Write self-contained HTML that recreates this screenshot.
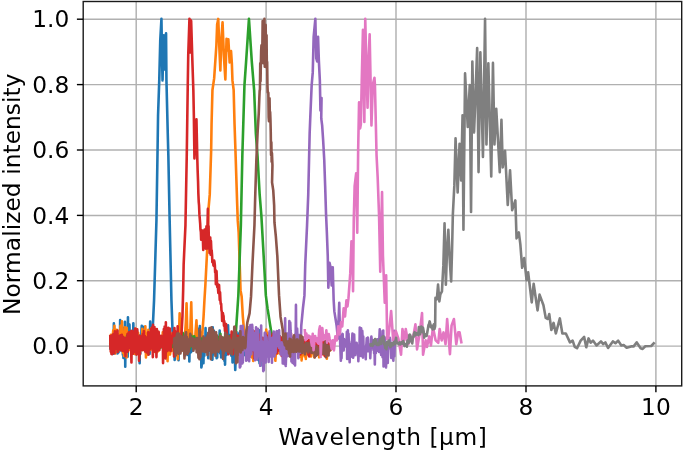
<!DOCTYPE html>
<html lang="en"><head><meta charset="utf-8"><title>Normalized intensity vs wavelength</title>
<style>
html,body{margin:0;padding:0;background:#fff;}
body{width:685px;height:452px;overflow:hidden;}
svg{display:block;}
text{font-family:"DejaVu Sans","Liberation Sans",sans-serif;font-size:23.3px;fill:#000;}
.g line{stroke:#b0b0b0;stroke-width:1.45;}
.t line{stroke:#000;stroke-width:1.4;}
.s polyline{fill:none;stroke-width:2.6;stroke-linejoin:round;stroke-linecap:butt;}
</style></head><body>
<svg width="685" height="452" viewBox="0 0 685 452">
<rect x="0" y="0" width="685" height="452" fill="#fff"/>
<defs><clipPath id="c"><rect x="83.2" y="1.5" width="598.5" height="384.4"/></clipPath></defs>

<g class="g">
<line x1="136.2" y1="1.5" x2="136.2" y2="385.9"/>
<line x1="266.1" y1="1.5" x2="266.1" y2="385.9"/>
<line x1="396.0" y1="1.5" x2="396.0" y2="385.9"/>
<line x1="526.0" y1="1.5" x2="526.0" y2="385.9"/>
<line x1="655.9" y1="1.5" x2="655.9" y2="385.9"/>
<line x1="83.2" y1="346.1" x2="681.7" y2="346.1"/>
<line x1="83.2" y1="280.7" x2="681.7" y2="280.7"/>
<line x1="83.2" y1="215.4" x2="681.7" y2="215.4"/>
<line x1="83.2" y1="150.0" x2="681.7" y2="150.0"/>
<line x1="83.2" y1="84.6" x2="681.7" y2="84.6"/>
<line x1="83.2" y1="19.2" x2="681.7" y2="19.2"/>
</g>
<g class="s" clip-path="url(#c)" transform="translate(-0.15,0.4)">
<polyline stroke="#1f77b4" points="110.4,349.5 110.7,340.4 111.0,345.6 111.3,344.3 111.6,351.1 111.9,343.0 112.2,341.6 112.5,345.3 112.8,343.5 113.1,339.7 113.4,338.7 113.7,353.3 114.0,323.0 114.3,337.1 114.6,331.4 114.9,345.7 115.2,346.8 115.5,346.5 115.8,332.2 116.1,342.1 116.4,337.5 116.7,340.9 117.0,343.0 117.3,340.7 117.6,353.0 117.9,340.6 118.2,336.6 118.5,352.2 118.8,349.6 119.1,350.9 119.4,347.7 119.7,350.8 120.0,347.6 120.3,319.6 120.6,325.7 120.9,342.4 121.2,343.8 121.5,348.7 121.8,340.9 122.1,335.0 122.4,329.1 122.7,335.6 123.0,354.4 123.3,332.0 123.6,357.5 123.9,327.3 124.2,341.2 124.5,341.6 124.8,336.3 125.1,321.4 125.4,366.4 125.7,336.2 126.0,344.6 126.3,339.1 126.6,354.1 126.9,355.2 127.2,342.3 127.5,337.1 127.8,356.3 128.1,316.8 128.4,341.9 128.7,348.0 129.0,342.3 129.3,337.4 129.6,324.2 129.9,335.6 130.2,336.8 130.5,330.8 130.8,349.3 131.1,340.9 131.4,343.7 131.7,348.1 132.0,345.9 132.3,346.6 132.6,348.3 132.9,340.3 133.2,345.7 133.5,322.8 133.8,340.8 134.1,348.8 134.4,339.1 134.7,346.0 135.0,353.5 135.3,334.2 135.6,344.6 135.9,345.0 136.2,337.6 136.5,342.7 136.8,342.9 137.1,329.6 137.4,345.1 137.7,336.4 138.0,338.9 138.3,340.3 138.6,347.1 138.9,344.8 139.2,348.2 139.5,346.5 139.8,362.8 140.1,334.9 140.4,353.0 140.7,340.1 141.0,337.5 141.3,345.6 141.6,330.3 141.9,325.4 142.2,338.7 142.5,347.4 142.8,336.4 143.1,328.8 143.4,336.6 143.7,343.7 144.0,326.3 144.3,346.8 144.6,348.3 144.9,346.8 145.2,340.5 145.5,341.0 145.8,337.1 146.1,343.6 146.4,344.1 146.7,348.0 147.0,338.2 147.3,351.8 147.6,344.1 147.9,338.1 148.2,343.5 148.5,346.1 148.8,341.5 149.1,331.8 149.4,335.5 149.7,353.6 150.0,347.3 150.3,321.2 150.6,342.7 150.9,341.3 151.2,344.6 151.5,331.2 151.8,336.6 152.6,334.0 154.2,300.0 156.6,220.0 157.7,150.0 158.2,115.0 159.4,80.0 160.4,40.0 161.6,18.5 162.2,58.0 162.7,80.0 163.3,52.0 163.9,35.0 164.4,58.0 164.8,69.0 165.5,45.0 166.2,33.0 166.6,80.0 167.9,133.0 168.5,155.0 169.8,220.0 171.6,300.0 172.7,331.0 173.3,344.0 173.6,343.7 173.9,350.3 174.2,338.8 174.5,338.6 174.8,359.6 175.1,355.4 175.4,352.6 175.7,347.3 176.0,349.3 176.3,350.1 176.6,341.2 176.9,340.3 177.2,345.7 177.5,341.5 177.8,347.3 178.1,347.1 178.4,352.2 178.7,359.9 179.0,332.0 179.3,339.6 179.6,342.8 179.9,333.4 180.2,348.9 180.5,320.8 180.8,329.2 181.1,339.5 181.4,344.9 181.7,347.6 182.0,341.6 182.3,348.1 182.6,333.5 182.9,337.5 183.2,333.4 183.5,339.4 183.8,342.6 184.1,341.0 184.4,352.1 184.7,354.3 185.0,339.0 185.3,353.1 185.6,343.5 185.9,330.7 186.2,342.1 186.5,321.1 186.8,350.2 187.1,349.6 187.4,352.6 187.7,354.5 188.0,334.2 188.3,347.2 188.6,349.1 188.9,344.2 189.2,336.5 189.5,361.1 189.8,346.0 190.1,346.8 190.4,344.7 190.7,340.9 191.0,352.0 191.3,349.8 191.6,345.0 191.9,350.7 192.2,341.2 192.5,343.7 192.8,347.1 193.1,347.9 193.4,345.2 193.7,344.5 194.0,345.5 194.3,344.7 194.6,337.8 194.9,345.1 195.2,345.3 195.5,348.1 195.8,342.3 196.1,345.1 196.4,334.9 196.7,334.6 197.0,345.8 197.3,338.4 197.6,344.8 197.9,335.7 198.2,347.5 198.5,337.5 198.8,328.2 199.1,342.6 199.4,344.3 199.7,345.9 200.0,325.7 200.3,348.4 200.6,337.4 200.9,341.2 201.2,344.2 201.5,367.1 201.8,365.5 202.1,332.2 202.4,344.9 202.7,335.9 203.0,343.6 203.3,340.6 203.6,362.9 203.9,349.5 204.2,350.3 204.5,355.4 204.8,346.8 205.1,349.9 205.4,350.0 205.7,327.6 206.0,351.0 206.3,341.2 206.6,338.8 206.9,340.0 207.2,349.8 207.5,334.8 207.8,348.3 208.1,349.2 208.4,357.9 208.7,342.7 209.0,336.7 209.3,344.6 209.6,329.3 209.9,345.8 210.2,348.8 210.5,335.8 210.8,350.6 211.1,342.9 211.4,332.5 211.7,330.4 212.0,345.0 212.3,359.4 212.6,359.1 212.9,327.0 213.2,347.1 213.5,354.2 213.8,337.2 214.1,330.4 214.4,352.3 214.7,350.3 215.0,347.1 215.3,352.3 215.6,334.6 215.9,345.0 216.2,344.3 216.5,347.6 216.8,357.9 217.1,340.0 217.4,357.1 217.7,337.6 218.0,348.3 218.3,342.9 218.6,350.3 218.9,339.7 219.2,341.1 219.5,350.4 219.8,330.2 220.1,347.9 220.4,353.1 220.7,347.6 221.0,347.7 221.3,357.0 221.6,347.7 221.9,350.0 222.2,341.0 222.5,351.7 222.8,340.6 223.1,347.1 223.4,349.9 223.7,337.9 224.0,340.3 224.3,350.4 224.6,360.6 224.9,357.2 225.2,364.2 225.5,346.1 225.8,342.5 226.1,354.8 226.4,343.3 226.7,338.0 227.0,331.4 227.3,347.5 227.6,338.1 227.9,353.7 228.2,324.9 228.5,335.3 228.8,343.1 229.1,344.5 229.4,337.8 229.7,348.8 230.0,340.9 230.3,334.6 230.6,348.3 230.9,345.0 231.2,348.3 231.5,355.3 231.8,340.6 232.1,339.5 232.4,349.5 232.7,362.1 233.0,338.7 233.3,340.1 233.6,350.3 233.9,361.2 234.2,348.3 234.5,356.9 234.8,334.2 235.1,359.6 235.4,369.6 235.7,360.2 236.0,350.3 236.3,355.2 236.6,331.7 236.9,350.7 237.2,335.1 237.5,350.9 237.8,339.7 238.1,341.6 238.4,341.3 238.7,352.0 239.0,347.7 239.3,332.9 239.6,342.4 239.9,349.7 240.2,331.0 240.5,351.3 240.8,349.7 241.1,337.4 241.4,354.9 241.7,347.5 242.0,343.7 242.3,352.7 242.6,354.1 242.9,353.4 243.2,352.1 243.5,352.5 243.8,342.5 244.1,346.8 244.4,340.9 244.7,350.4 245.0,342.7 245.3,354.8 245.6,340.0 245.9,344.3 246.2,342.6 246.5,346.8 246.8,329.5 247.1,348.4 247.4,346.5 247.7,339.3 248.0,358.0 248.3,343.5 248.6,352.0 248.9,346.9 249.2,352.0 249.5,337.9 249.8,336.7 250.1,344.4 250.4,350.4 250.7,345.8 251.0,347.8 251.3,347.3 251.6,346.1 251.9,345.4 252.2,344.2 252.5,348.2 252.8,351.8 253.1,346.0 253.4,344.1 253.7,351.6 254.0,337.3 254.3,349.6 254.6,349.3 254.9,350.5 255.2,354.5 255.5,354.8 255.8,345.3 256.1,354.5 256.4,357.4 256.7,357.4 257.0,348.1 257.3,357.7 257.6,345.7 257.9,353.6 258.2,342.7 258.5,359.7 258.8,348.9 259.1,350.7 259.4,329.8 259.7,362.9 260.0,346.5 260.3,354.4 260.6,365.2 260.9,350.4 261.2,354.3 261.5,355.4 261.8,341.4 262.1,346.5 262.4,360.0 262.7,345.2 263.0,345.1 263.3,344.8 263.6,345.2 263.9,346.1 264.2,346.6 264.5,346.9 264.8,344.3 265.1,349.8 265.4,353.4 265.7,334.6 266.0,349.7"/>
<polyline stroke="#ff7f0e" points="110.4,343.7 110.7,337.2 111.0,334.3 111.3,351.7 111.6,347.2 111.9,339.3 112.2,338.8 112.5,338.5 112.8,345.1 113.1,333.4 113.4,329.9 113.7,335.4 114.0,339.6 114.3,336.0 114.6,325.4 114.9,335.4 115.2,341.7 115.5,353.1 115.8,342.5 116.1,342.6 116.4,345.1 116.7,334.9 117.0,329.3 117.3,330.4 117.6,344.7 117.9,338.8 118.2,340.4 118.5,345.9 118.8,334.2 119.1,346.3 119.4,349.7 119.7,344.9 120.0,348.0 120.3,341.9 120.6,325.5 120.9,338.4 121.2,341.0 121.5,327.4 121.8,336.6 122.1,320.8 122.4,331.3 122.7,350.8 123.0,341.3 123.3,352.5 123.6,342.5 123.9,345.8 124.2,355.5 124.5,339.8 124.8,336.9 125.1,326.8 125.4,336.3 125.7,345.9 126.0,346.2 126.3,336.0 126.6,357.1 126.9,327.5 127.2,342.4 127.5,340.2 127.8,332.5 128.1,335.3 128.4,333.3 128.7,341.4 129.0,349.7 129.3,340.6 129.6,341.1 129.9,346.1 130.2,348.2 130.5,347.0 130.8,344.5 131.1,344.5 131.4,337.9 131.7,335.2 132.0,335.2 132.3,344.5 132.6,346.7 132.9,345.2 133.2,339.6 133.5,340.2 133.8,337.2 134.1,352.7 134.4,349.0 134.7,335.2 135.0,348.0 135.3,353.6 135.6,336.5 135.9,343.7 136.2,328.5 136.5,343.2 136.8,351.2 137.1,347.9 137.4,347.1 137.7,342.0 138.0,342.1 138.3,332.3 138.6,341.3 138.9,340.7 139.2,339.3 139.5,350.7 139.8,352.4 140.1,341.1 140.4,337.9 140.7,340.6 141.0,343.6 141.3,335.5 141.6,340.7 141.9,339.6 142.2,349.8 142.5,328.4 142.8,329.3 143.1,342.9 143.4,347.4 143.7,340.6 144.0,331.8 144.3,343.8 144.6,341.5 144.9,343.1 145.2,337.4 145.5,325.9 145.8,336.4 146.1,357.0 146.4,347.8 146.7,346.0 147.0,354.3 147.3,348.4 147.6,344.6 147.9,332.9 148.2,343.4 148.5,329.5 148.8,331.0 149.1,340.9 149.4,340.3 149.7,342.2 150.0,349.9 150.3,347.3 150.6,336.7 150.9,349.3 151.2,342.5 151.5,335.2 151.8,327.6 152.1,346.3 152.4,340.3 152.7,340.1 153.0,341.2 153.3,341.7 153.6,346.7 153.9,341.3 154.2,334.9 154.5,351.5 154.8,335.7 155.1,335.5 155.4,347.1 155.7,334.2 156.0,341.8 156.3,337.9 156.6,339.5 156.9,335.5 157.2,344.9 157.5,351.7 157.8,331.1 158.1,339.0 158.4,333.7 158.7,350.4 159.0,341.8 159.3,342.7 159.6,344.0 159.9,341.3 160.2,341.5 160.5,345.1 160.8,342.7 161.1,345.5 161.4,343.1 161.7,345.7 162.0,336.9 162.3,340.3 162.6,345.4 162.9,331.8 163.2,343.2 163.5,335.8 163.8,353.6 164.1,345.5 164.4,335.5 164.7,337.2 165.0,351.2 165.3,342.2 165.6,336.5 165.9,342.9 166.2,344.4 166.5,349.8 166.8,344.3 167.1,343.0 167.4,334.3 167.7,360.7 168.0,346.3 168.3,337.2 168.6,338.9 168.9,342.7 169.2,340.0 169.5,341.3 169.8,337.8 170.1,354.2 170.4,352.4 170.7,339.6 171.0,332.8 171.3,341.6 171.6,350.6 171.9,340.0 172.2,348.0 172.5,338.5 172.8,342.4 173.1,340.7 173.4,347.1 173.7,340.7 174.0,346.0 174.3,354.1 174.6,343.7 174.9,349.7 175.2,341.8 175.5,335.5 175.8,352.2 176.1,341.3 176.4,339.0 176.7,342.7 177.0,350.9 177.3,340.6 177.6,345.2 177.9,358.7 178.2,339.4 178.5,353.3 179.8,313.0 180.7,345.0 181.6,338.0 182.5,350.0 183.4,336.0 184.3,348.0 185.2,335.0 186.0,322.0 186.7,303.0 187.4,330.0 188.3,344.0 189.2,330.0 190.1,342.0 190.8,320.0 191.4,302.0 192.1,332.0 193.0,346.0 193.9,336.0 194.8,348.0 195.7,332.0 196.6,320.0 197.5,340.0 198.4,350.0 199.3,338.0 200.2,347.0 201.1,340.0 202.0,339.5 203.7,316.5 204.6,299.6 205.5,285.0 207.3,250.0 208.7,208.0 209.9,194.0 211.3,150.0 211.7,124.0 212.6,89.6 214.3,78.0 216.5,45.4 217.3,24.0 218.4,18.5 219.4,45.0 220.5,70.0 221.5,40.0 222.7,22.0 224.0,55.0 225.5,79.0 226.7,38.3 227.6,50.0 228.5,39.0 229.8,62.0 231.2,50.7 232.0,63.0 232.6,80.0 233.8,89.6 234.7,124.0 235.6,150.0 237.3,203.0 237.9,220.0 238.8,232.0 240.7,290.0 241.8,296.0 243.0,316.5 243.8,325.4 244.5,338.0 245.4,338.4 245.8,343.0 246.1,336.1 246.4,336.7 246.8,350.7 247.1,332.6 247.5,341.6 247.8,328.4 248.2,346.9 248.5,336.3 248.9,335.4 249.2,347.3 249.6,335.3 249.9,348.0 250.3,331.5 250.6,339.8 251.0,348.3 251.3,346.6 251.7,338.9 252.0,331.5 252.4,357.3 252.7,351.4 253.1,340.8 253.4,360.6 253.8,352.9 254.1,347.4 254.5,347.0 254.8,346.3 255.2,337.6 255.5,344.4 255.9,339.9 256.2,357.2 256.6,344.6 256.9,345.2 257.3,339.3 257.6,349.4 258.0,342.2 258.3,341.5 258.7,344.0 259.1,343.1 259.4,338.5 259.8,345.3 260.1,347.3 260.5,343.6 260.8,348.2 261.2,351.4 261.5,344.8 261.9,339.1 262.2,346.9 262.6,345.5 262.9,348.9 263.3,347.5 263.6,351.4 264.0,340.2 264.3,346.4 264.7,344.4 265.0,338.0 265.4,344.2 265.7,350.3 266.1,341.4 266.4,329.1 266.8,351.5 267.1,351.1 267.5,344.8 267.8,332.6 268.2,336.2 268.5,340.3 268.9,337.1 269.2,347.3 269.6,339.6 269.9,346.4 270.3,340.9 270.6,336.8 271.0,342.1 271.3,341.4 271.7,351.4 272.0,341.0 272.4,335.2 272.7,337.9 273.1,341.5 273.4,337.2 273.8,355.1 274.1,354.7 274.5,340.3 274.8,350.9 275.2,343.2 275.5,360.4 275.9,353.7 276.2,343.6 276.6,351.1 276.9,344.8 277.3,353.3 277.6,350.9 278.0,333.9 278.3,339.7 278.7,352.1 279.0,342.7 279.4,344.4 279.7,353.0 280.1,344.2 280.4,346.2 280.8,341.4 281.1,346.4 281.5,349.6 281.8,344.6 282.2,343.1 282.5,340.4 282.9,345.4 283.2,342.4 283.6,342.6 283.9,344.8 284.3,336.5 284.6,343.2 285.0,341.6 285.3,340.9 285.7,342.0 286.0,343.8 286.4,341.1 286.7,346.0 287.1,355.5 287.4,344.5 287.8,346.4 288.1,352.2 288.5,338.4 288.8,342.0 289.2,344.7 289.5,350.7 289.9,345.2 290.2,345.6 290.6,354.1 290.9,349.7 291.3,345.0 291.6,345.5 292.0,342.2 292.3,339.7 292.7,343.6 293.0,341.2 293.4,338.8 293.7,347.8 294.1,348.2 294.4,352.9 294.8,347.3 295.1,343.0 295.5,346.5 295.8,341.1 296.2,346.8 296.5,342.5 296.9,348.2 297.2,340.6 297.6,349.5 297.9,348.3 298.3,343.7 298.6,346.6 299.0,346.2 299.3,343.9 299.7,356.3 300.0,345.2 300.4,349.6 300.7,351.9 301.1,352.4 301.4,346.5 301.8,360.0 302.1,354.5 302.5,351.4 302.8,346.5 303.2,354.5 303.5,348.4 303.9,346.4 304.2,345.2 304.6,342.8 304.9,356.0 305.3,350.0 305.6,345.3 306.0,358.6 306.3,348.2 306.7,346.3 307.0,345.6 307.4,353.3 307.7,352.9 308.1,346.5 308.4,348.9 308.8,347.8 309.1,346.6 309.5,348.6 309.8,349.2 310.2,345.7 310.5,347.7 310.9,350.0 311.2,356.1 311.6,352.2 311.9,353.3 312.3,352.4 312.6,349.7 313.0,350.7 313.3,344.4 313.7,351.9 314.0,347.6 314.4,356.9 314.7,349.1 315.1,349.5 315.4,348.4 315.8,346.5 316.1,343.2 316.5,353.3 316.8,354.5 317.2,348.1 317.5,350.7 317.9,353.3 318.2,343.3 318.6,351.8 318.9,351.4 319.3,356.9 319.6,349.1 320.0,354.7 320.3,351.6 320.7,348.1 321.0,350.3 321.4,349.2 321.7,347.7 322.1,351.7 322.4,347.0 322.8,349.8 323.1,346.7 323.5,347.4 323.8,351.5 324.2,347.7 324.5,354.7 324.9,349.4 325.2,355.2 325.6,343.2 325.9,352.1 326.3,344.5 326.6,341.6 327.0,358.2 327.3,351.1 327.7,349.3 328.0,345.3 328.4,351.9 328.7,350.0 329.1,348.4 329.4,350.3 329.8,347.4 330.1,349.9 330.5,349.9 330.8,344.4"/>
<polyline stroke="#2ca02c" points="110.4,342.8 110.8,343.9 111.1,339.4 111.4,339.7 111.8,341.5 112.1,343.8 112.5,341.9 112.8,347.1 113.2,338.4 113.5,338.0 113.9,344.8 114.2,340.2 114.6,339.9 114.9,341.3 115.3,333.9 115.6,340.4 116.0,342.9 116.3,340.2 116.7,342.6 117.0,338.8 117.4,339.4 117.7,341.9 118.1,340.5 118.4,337.4 118.8,348.8 119.1,343.7 119.5,339.8 119.8,344.1 120.2,339.7 120.5,335.4 120.9,340.8 121.2,341.7 121.6,342.4 121.9,348.7 122.3,343.2 122.6,343.8 123.0,340.3 123.3,347.0 123.7,340.3 124.0,337.7 124.4,341.7 124.7,341.0 125.1,343.2 125.4,339.7 125.8,344.9 126.1,339.6 126.5,338.5 126.8,347.1 127.2,335.5 127.5,342.8 127.9,341.2 128.2,343.6 128.6,340.1 128.9,338.5 129.3,345.2 129.6,342.6 130.0,340.0 130.3,340.4 130.7,337.8 131.0,343.4 131.4,341.8 131.7,342.7 132.1,347.5 132.4,336.5 132.8,348.1 133.1,350.8 133.5,339.8 133.8,337.1 134.2,339.8 134.5,345.4 134.9,340.0 135.2,346.3 135.6,340.0 135.9,340.1 136.3,339.5 136.6,341.7 137.0,340.3 137.3,338.5 137.7,343.2 138.0,348.3 138.4,345.6 138.7,341.1 139.1,341.1 139.4,344.3 139.8,344.9 140.1,338.7 140.5,342.4 140.8,342.5 141.2,340.6 141.5,340.8 141.9,342.7 142.2,347.0 142.6,336.1 142.9,342.9 143.3,342.1 143.6,335.7 144.0,338.4 144.3,342.1 144.7,338.1 145.0,341.5 145.4,342.1 145.7,339.3 146.1,339.7 146.4,341.0 146.8,340.7 147.1,342.3 147.5,343.2 147.8,342.9 148.2,339.3 148.5,335.9 148.9,341.9 149.2,339.6 149.6,345.4 149.9,340.2 150.3,346.3 150.6,342.1 151.0,343.7 151.3,339.7 151.7,341.9 152.0,343.9 152.4,341.9 152.7,344.0 153.1,340.6 153.4,340.6 153.8,340.7 154.1,345.8 154.5,337.7 154.8,343.1 155.2,343.2 155.5,342.6 155.9,340.8 156.2,343.1 156.6,343.5 156.9,341.0 157.3,344.1 157.6,339.8 158.0,347.1 158.3,339.3 158.7,344.6 159.0,342.7 159.4,340.9 159.7,347.8 160.1,341.5 160.4,342.7 160.8,347.4 161.1,346.6 161.5,341.9 161.8,339.5 162.2,340.5 162.5,344.5 162.9,346.4 163.2,338.2 163.6,343.1 163.9,340.1 164.3,340.8 164.6,338.5 165.0,342.4 165.3,344.3 165.7,341.1 166.0,342.5 166.4,341.2 166.7,336.1 167.1,345.6 167.4,340.6 167.8,338.3 168.1,342.5 168.5,340.8 168.8,340.3 169.2,344.7 169.5,340.9 169.9,341.8 170.2,341.3 170.6,337.6 170.9,341.5 171.3,341.4 171.6,344.7 172.0,337.6 172.3,344.1 172.7,346.5 173.0,338.6 173.4,341.3 173.7,337.8 174.1,339.8 174.4,344.6 174.8,342.3 175.1,340.8 175.5,343.2 175.8,342.5 176.2,343.9 176.5,339.7 176.9,338.4 177.2,343.1 177.6,346.7 177.9,342.4 178.3,342.7 178.6,339.2 179.0,343.3 179.3,345.0 179.7,341.1 180.0,338.4 180.4,340.5 180.7,343.7 181.1,341.7 181.4,342.4 181.8,336.4 182.1,342.8 182.5,345.7 182.8,332.5 183.2,340.9 183.5,342.4 183.9,341.2 184.2,337.5 184.6,339.5 184.9,341.3 185.3,338.8 185.6,340.5 186.0,338.4 186.3,340.5 186.7,344.4 187.0,342.2 187.4,341.1 187.7,341.0 188.1,340.5 188.4,344.6 188.8,345.1 189.1,341.2 189.5,344.5 189.8,348.4 190.2,339.2 190.5,346.9 190.9,343.1 191.2,339.9 191.6,335.4 191.9,337.7 192.3,337.0 192.6,340.1 193.0,338.9 193.3,344.0 193.7,345.4 194.0,339.1 194.4,335.9 194.7,344.0 195.1,341.2 195.4,342.7 195.8,342.3 196.1,345.8 196.5,347.1 196.8,337.8 197.2,342.2 197.5,348.7 197.9,342.0 198.2,348.1 198.6,344.8 198.9,339.8 199.3,340.7 199.6,344.3 200.0,339.0 200.3,338.6 200.7,337.6 201.0,345.3 201.4,339.4 201.7,339.4 202.1,341.0 202.4,338.7 202.8,338.3 203.1,342.2 203.5,342.3 203.8,339.1 204.2,345.9 204.5,339.7 204.9,342.7 205.2,339.8 205.6,341.2 205.9,339.1 206.3,340.0 206.6,342.8 207.0,341.7 207.3,343.3 207.7,341.3 208.0,344.2 208.4,341.3 208.7,344.9 209.1,340.7 209.4,341.3 209.8,340.8 210.1,345.0 210.5,344.2 210.8,341.6 211.2,342.9 211.5,344.5 211.9,338.5 212.2,340.4 212.6,343.8 212.9,336.6 213.3,346.5 213.6,343.2 214.0,338.0 214.3,338.0 214.7,346.6 215.0,345.9 215.4,337.9 215.7,344.5 216.1,346.9 216.4,345.0 216.8,341.7 217.1,336.0 217.5,339.9 217.8,346.7 218.2,349.1 218.5,343.3 218.9,338.0 219.2,341.7 219.6,336.3 219.9,338.8 220.3,335.3 220.6,333.4 221.0,345.8 221.3,340.8 221.7,338.7 222.0,347.7 222.4,339.4 222.7,338.9 223.1,340.2 223.4,338.6 223.8,337.6 224.1,337.2 224.5,343.6 224.8,339.5 225.2,337.3 225.5,345.3 225.9,343.8 226.2,338.7 226.6,343.0 226.9,343.7 227.3,337.5 227.6,336.8 228.0,339.0 228.3,337.2 228.7,342.2 229.0,346.5 229.4,345.7 229.7,336.0 230.1,341.4 230.4,342.9 230.8,337.8 231.1,344.3 231.5,342.0 231.8,339.7 232.2,337.0 232.5,338.4 232.9,339.9 233.2,343.4 233.6,340.9 233.9,340.5 234.3,343.1 234.6,340.3 235.0,339.5 235.6,338.0 236.5,325.0 238.5,295.0 241.0,225.0 242.5,155.0 244.6,85.0 246.2,62.0 249.1,18.5 252.0,62.0 254.3,90.0 256.0,133.0 257.7,156.0 259.8,194.0 261.5,215.0 263.3,246.5 266.0,295.0 267.7,308.0 270.4,325.4 272.2,336.0 273.0,338.0 273.4,343.9 273.7,341.7 274.1,343.2 274.4,348.8 274.8,342.0 275.1,350.9 275.5,343.0 275.8,338.9 276.2,344.3 276.5,335.2 276.9,341.8 277.2,341.5 277.6,341.5 277.9,342.8 278.3,348.8 278.6,337.5 279.0,349.0 279.3,341.5 279.7,340.7 280.0,335.9 280.4,336.5 280.7,340.6 281.1,340.8 281.4,340.9 281.8,341.6 282.1,339.5 282.5,341.1 282.8,340.6 283.2,339.9 283.5,340.3 283.9,342.2 284.2,339.9 284.6,345.3 284.9,344.6 285.3,342.9 285.6,340.9 286.0,345.2 286.3,341.0 286.7,338.5 287.0,341.1 287.4,337.9 287.7,337.7 288.1,341.5 288.4,337.6 288.8,339.6 289.1,339.8 289.5,344.9 289.8,341.8 290.2,342.8 290.5,336.7 290.9,339.6 291.2,338.8 291.6,340.7 291.9,343.2 292.3,340.3 292.6,341.3 293.0,341.6 293.3,337.3 293.7,343.2 294.0,338.4 294.4,342.9 294.7,336.0 295.1,343.6 295.4,344.7 295.8,344.6 296.1,344.3 296.5,342.0 296.8,345.9 297.2,337.8 297.5,339.5 297.9,334.9 298.2,347.2 298.6,342.1 298.9,339.2 299.3,347.1 299.6,339.6 300.0,339.2"/>
<polyline stroke="#d62728" points="110.4,334.7 110.6,347.8 110.8,346.2 111.0,351.2 111.2,351.3 111.4,335.5 111.6,353.5 111.8,348.4 112.0,349.7 112.2,353.8 112.4,346.5 112.6,341.4 112.8,336.5 113.0,334.1 113.2,337.9 113.4,334.1 113.6,344.5 113.8,344.4 114.0,342.3 114.2,344.4 114.4,333.4 114.6,352.9 114.8,340.0 115.0,330.9 115.2,342.9 115.4,346.2 115.6,344.2 115.8,345.7 116.0,332.2 116.2,348.3 116.4,339.5 116.6,342.4 116.8,346.5 117.0,332.0 117.2,345.8 117.4,345.0 117.6,330.2 117.8,351.5 118.0,343.1 118.2,337.6 118.4,345.5 118.6,348.3 118.8,346.1 119.0,348.9 119.2,342.8 119.4,340.6 119.6,336.4 119.8,335.8 120.0,342.5 120.2,348.5 120.4,341.9 120.6,349.5 120.8,335.0 121.0,347.7 121.2,343.1 121.4,338.8 121.6,340.2 121.8,341.1 122.0,334.5 122.2,350.2 122.4,341.8 122.6,344.4 122.8,343.4 123.0,344.3 123.2,336.3 123.4,346.8 123.6,342.1 123.8,349.1 124.0,350.8 124.2,337.3 124.4,338.4 124.6,343.2 124.8,350.4 125.0,338.9 125.2,344.8 125.4,347.7 125.6,355.9 125.8,337.7 126.0,343.3 126.2,338.4 126.4,344.7 126.6,347.6 126.8,338.0 127.0,346.5 127.2,336.7 127.4,346.1 127.6,333.7 127.8,351.3 128.0,343.6 128.2,348.4 128.4,342.0 128.6,341.3 128.8,337.9 129.0,331.9 129.2,337.4 129.4,340.6 129.6,347.5 129.8,345.0 130.0,345.9 130.2,337.5 130.4,344.9 130.6,346.8 130.8,331.2 131.0,343.0 131.2,345.2 131.4,353.2 131.6,362.0 131.8,342.3 132.0,330.4 132.2,351.9 132.4,331.7 132.6,340.3 132.8,331.7 133.0,346.2 133.2,353.4 133.4,343.0 133.6,336.6 133.8,331.1 134.0,341.3 134.2,344.7 134.4,351.6 134.6,342.4 134.8,348.2 135.0,333.1 135.2,328.1 135.4,348.9 135.6,343.1 135.8,337.8 136.0,335.7 136.2,349.3 136.4,334.7 136.6,354.2 136.8,343.3 137.0,332.0 137.2,345.8 137.4,329.0 137.6,343.5 137.8,346.7 138.0,351.7 138.2,341.5 138.4,341.0 138.6,336.6 138.8,344.6 139.0,341.1 139.2,360.4 139.4,341.1 139.6,340.4 139.8,344.3 140.0,335.7 140.2,353.9 140.4,342.4 140.6,343.9 140.8,341.7 141.0,347.8 141.2,339.7 141.4,349.4 141.6,345.8 141.8,338.5 142.0,338.4 142.2,346.8 142.4,335.6 142.6,349.6 142.8,335.6 143.0,333.4 143.2,344.5 143.4,343.1 143.6,340.1 143.8,348.1 144.0,330.7 144.2,341.0 144.4,343.8 144.6,349.4 144.8,339.7 145.0,335.6 145.2,351.0 145.4,347.7 145.6,350.5 145.8,342.3 146.0,343.5 146.2,346.3 146.4,340.1 146.6,337.1 146.8,342.5 147.0,352.1 147.2,339.3 147.4,347.0 147.6,343.2 147.8,344.9 148.0,344.0 148.2,341.3 148.4,331.8 148.6,354.4 148.8,346.7 149.0,350.2 149.2,349.0 149.4,335.3 149.6,337.7 149.8,339.5 150.0,349.1 150.2,332.6 150.4,340.4 150.6,338.8 150.8,331.7 151.0,335.3 151.2,347.6 151.4,328.5 151.6,346.9 151.8,329.4 152.0,336.5 152.2,326.9 152.4,326.7 152.6,344.1 152.8,347.3 153.0,356.7 153.2,324.4 153.4,351.8 153.6,343.9 153.8,326.3 154.0,340.1 154.2,348.6 154.4,333.1 154.6,326.7 154.8,351.0 155.0,339.8 155.2,334.7 155.4,347.4 155.6,341.8 155.8,330.0 156.0,347.6 156.2,342.9 156.4,347.5 156.6,356.7 156.8,341.5 157.0,328.7 157.2,341.7 157.4,350.6 157.6,338.4 157.8,332.5 158.0,343.2 158.2,337.1 158.4,339.0 158.6,346.6 158.8,331.4 159.0,335.2 159.2,336.7 159.4,342.7 159.6,349.6 159.8,337.8 160.0,342.6 160.2,343.8 160.4,345.8 160.6,346.9 160.8,336.1 161.0,346.1 161.2,335.3 161.4,345.7 161.6,344.1 161.8,344.7 162.0,341.1 162.2,336.6 162.4,346.4 162.6,339.4 162.8,346.2 163.0,341.3 163.2,362.7 163.4,352.0 163.6,335.4 163.8,352.7 164.0,328.7 164.2,344.6 164.4,349.6 164.6,350.4 164.8,326.1 165.0,333.2 165.2,329.6 165.4,352.7 165.6,348.9 165.8,358.0 166.0,321.8 166.2,348.6 166.4,342.2 166.6,343.9 166.8,331.6 167.0,345.8 167.2,350.7 167.4,339.4 167.6,342.3 167.8,339.9 168.0,349.9 168.2,349.1 168.4,327.3 168.6,333.2 168.8,330.0 169.0,349.7 169.2,348.3 169.4,343.2 169.6,347.9 169.8,340.5 170.0,328.2 170.2,345.4 170.4,335.8 170.6,345.9 170.8,350.5 171.0,342.3 171.2,342.5 171.4,338.2 171.6,337.3 171.8,342.1 172.0,342.5 172.2,335.4 172.4,336.0 172.6,338.2 172.8,336.2 173.0,332.9 173.2,332.9 173.4,336.8 173.6,343.1 173.8,331.6 174.0,337.3 174.2,356.0 174.4,333.9 174.6,327.6 174.8,338.6 175.0,337.3 175.2,334.5 175.4,341.9 175.6,334.8 175.8,338.0 176.0,331.3 176.2,347.5 176.4,344.4 176.6,345.1 176.8,335.7 177.0,343.3 177.2,338.8 177.4,344.0 177.6,348.2 177.8,325.8 178.0,342.9 178.2,347.6 178.4,351.8 178.6,340.5 178.8,343.0 179.0,337.9 179.2,335.6 179.4,338.7 179.6,348.6 179.8,339.7 180.0,349.2 180.2,342.1 180.4,351.5 180.6,335.5 180.8,341.1 181.0,340.5 181.6,334.0 182.6,316.0 183.3,290.0 183.8,264.0 185.6,225.0 186.9,155.0 187.9,85.0 188.4,54.0 189.6,18.5 190.1,52.0 190.6,19.5 191.3,20.6 192.6,63.0 193.5,89.6 194.0,115.4 194.6,158.0 195.6,135.0 196.6,119.0 197.5,160.0 197.8,170.3 198.2,180.8 198.5,192.8 198.9,201.7 199.2,205.0 199.6,214.5 199.9,217.9 200.3,222.9 200.6,228.8 201.0,231.4 201.3,239.4 201.7,238.6 202.0,236.5 202.4,231.6 202.7,230.2 203.1,240.7 203.4,249.6 203.8,239.9 204.1,239.1 204.5,244.7 204.8,229.2 205.2,238.6 205.5,245.1 205.9,248.3 206.2,239.5 206.6,226.0 206.9,243.6 207.3,248.0 207.6,233.0 208.0,208.5 208.3,230.6 208.7,225.8 209.0,239.2 209.4,237.5 209.7,252.5 210.1,251.5 210.4,237.1 210.8,254.4 211.1,240.7 211.5,249.7 211.8,249.8 212.2,254.7 212.5,261.7 212.9,261.9 213.2,261.4 213.6,265.0 213.9,265.4 214.3,260.1 214.6,261.4 215.0,264.8 215.3,272.0 215.7,269.7 216.0,283.7 216.4,270.5 216.7,270.9 217.1,281.7 217.4,286.4 217.8,283.8 218.1,287.5 218.5,292.5 218.8,288.0 219.2,284.6 219.5,290.9 219.9,299.6 220.2,291.9 220.6,300.4 220.9,303.5 221.3,303.4 221.6,309.8 222.0,311.5 222.3,320.5 222.7,315.9 223.0,312.6 223.4,314.8 223.7,315.5 224.1,325.4 224.4,320.6 224.8,324.8 225.1,330.5 225.5,325.7 225.8,329.5 226.2,323.7 226.5,328.7 226.9,332.6 227.2,338.9 227.6,344.2 227.9,339.7 228.6,353.9 228.8,340.5 229.1,341.0 229.3,351.2 229.6,344.8 229.8,343.3 230.1,349.9 230.3,340.4 230.6,337.7 230.8,350.7 231.1,343.1 231.3,350.9 231.6,337.2 231.8,331.2 232.1,340.4 232.3,349.0 232.6,336.7 232.8,338.8 233.1,353.8 233.3,342.7 233.6,348.8 233.8,346.9 234.1,347.8 234.3,345.3 234.6,340.9 234.8,342.1 235.1,333.0 235.3,346.3 235.6,345.8 235.8,331.9 236.1,345.0 236.3,342.8 236.6,338.1 236.8,348.0 237.1,334.9 237.3,345.7 237.6,335.9 237.8,337.9 238.1,339.4 238.3,354.2 238.6,345.7 238.8,335.8 239.1,343.2 239.3,345.6 239.6,336.0 239.8,350.9 240.1,334.3 240.3,339.6 240.6,344.9 240.8,339.3 241.1,355.2 241.3,352.2 241.6,345.2 241.8,343.4 242.1,352.9 242.3,342.2 242.6,333.8 242.8,345.2 243.1,330.5 243.3,339.1 243.6,344.6 243.8,344.2 244.1,341.4 244.3,341.5 244.6,344.4 244.8,345.4 245.1,342.3 245.3,345.2 245.6,347.8 245.8,344.2 246.1,342.9 246.3,343.2 246.6,334.1 246.8,349.8 247.1,338.5 247.3,338.5 247.6,334.2 247.8,344.0 248.1,340.4 248.3,346.0 248.6,344.4 248.8,348.8 249.1,336.4 249.3,346.3 249.6,337.7 249.8,352.0 250.1,349.8 250.3,337.4 250.6,340.0 250.8,341.0 251.1,337.4 251.3,345.6 251.6,346.4 251.8,350.9 252.1,343.5 252.3,334.0 252.6,337.6 252.8,346.0 253.1,345.3 253.3,339.0 253.6,336.8 253.8,330.7 254.1,347.5 254.3,357.9 254.6,351.0 254.8,357.6 255.1,341.6 255.3,338.1 255.6,341.0 255.8,336.0 256.1,337.8 256.4,342.7 256.6,344.6 256.9,341.9 257.1,335.0 257.4,341.2 257.6,347.9 257.9,347.1 258.1,332.8 258.4,348.4 258.6,335.7 258.9,345.0 259.1,343.1 259.4,339.9 259.6,342.6 259.9,346.2 260.1,334.3 260.4,342.7 260.6,337.5 260.9,337.5 261.1,341.4 261.4,337.4 261.6,337.6 261.9,342.9 262.1,345.7 262.4,339.3 262.6,338.1 262.9,337.4 263.1,345.2 263.4,347.8 263.6,338.8 263.9,342.4 264.1,345.5 264.4,348.8 264.6,345.4 264.9,345.9 265.1,344.9 265.4,347.3 265.6,342.1 265.9,333.7 266.1,352.6 266.4,342.4 266.6,345.7 266.9,335.1 267.1,345.6 267.4,337.4 267.6,354.8 267.9,339.4 268.1,343.3 268.4,349.7 268.6,339.6 268.9,348.6 269.1,344.1 269.4,348.5 269.6,345.8 269.9,344.5 270.1,337.8 270.4,345.5 270.6,340.8 270.9,348.0 271.1,341.2 271.4,342.7 271.6,338.4 271.9,347.2 272.1,335.9 272.4,347.9 272.6,341.5 272.9,333.4 273.1,348.4 273.4,347.6 273.6,346.5 273.9,343.3 274.1,348.4 274.4,342.4 274.6,344.3 274.9,338.2 275.1,347.0 275.4,341.4 275.6,336.3 275.9,334.9 276.1,346.7 276.4,338.6 276.6,341.2 276.9,352.7 277.1,348.4 277.4,341.6 277.6,342.1 277.9,348.0 278.1,349.5 278.4,342.2 278.6,339.0 278.9,343.9 279.1,350.1 279.4,348.0 279.6,340.2 279.9,342.8 280.1,336.1 280.4,350.7 280.6,343.2 280.9,340.6 281.1,337.1 281.4,346.8 281.6,346.5 281.9,355.6 282.1,344.5 282.4,337.7 282.6,341.1 282.9,345.8 283.1,344.3 283.4,332.8 283.6,340.4 283.9,349.4 284.1,336.9 284.4,335.9 284.6,347.3 284.9,334.6 285.1,343.8 285.4,340.3 285.6,345.8 285.9,349.5 286.1,348.5 286.4,338.9 286.6,350.6 286.9,341.8 287.1,345.5 287.4,346.1 287.6,347.0 287.9,350.4 288.1,341.3 288.4,348.5 288.6,345.8 288.9,347.5 289.1,346.7 289.4,352.9 289.6,350.7 289.9,345.7 290.1,338.3 290.4,345.6 290.6,339.4 290.9,341.5 291.1,332.9 291.4,341.1 291.6,342.5 291.9,347.1 292.1,346.7 292.4,346.8 292.6,341.7 292.9,348.3 293.1,339.1 293.4,342.7 293.6,337.6 293.9,340.9 294.1,340.4 294.4,347.4 294.6,345.0 294.9,339.2 295.1,343.7 295.4,345.0 295.6,346.0 295.9,344.3 296.1,342.1 296.4,349.4 296.6,344.0 296.9,350.7 297.1,345.5 297.4,343.1 297.6,351.2 297.9,350.3 298.1,348.6 298.4,348.7 298.6,345.0 298.9,350.3 299.1,352.0 299.4,352.3 299.6,348.9 299.9,350.6 300.1,349.0 300.4,348.1 300.6,354.1 300.9,343.3 301.1,347.3 301.4,346.3 301.6,345.4 301.9,348.7 302.1,340.7 302.4,345.1 302.6,346.0 302.9,348.3 303.1,350.6 303.4,344.5 303.6,342.0 303.9,342.1 304.1,346.1 304.4,340.0 304.6,350.8 304.9,346.1 305.1,345.2 305.4,339.6 305.6,342.7 305.9,345.7 306.1,344.7 306.4,345.0 306.6,341.4 306.9,345.6 307.1,344.2 307.4,345.1 307.6,351.3 307.9,343.5 308.1,344.2 308.4,340.2 308.6,354.9 308.9,349.5 309.1,341.0 309.4,356.0 309.6,352.1 309.9,338.4 310.1,347.8 310.4,342.5 310.6,347.2 310.9,345.8 311.1,346.7 311.4,348.6 311.6,347.9 311.9,347.7 312.1,350.3 312.4,344.8 312.6,342.3 312.9,348.3 313.1,349.7 313.4,343.1 313.6,341.3 313.9,341.4 314.1,348.3 314.4,343.0 314.6,348.8 314.9,342.6 315.1,346.0 315.4,350.2 315.6,343.9 315.9,344.0 316.1,350.3 316.4,348.5 316.6,343.8 316.9,344.4 317.1,338.4 317.4,348.9 317.6,350.7 317.9,345.4 318.1,344.2 318.4,341.9 318.6,347.2 318.9,349.4 319.1,347.8 319.4,347.8 319.6,347.8 319.9,343.9 320.1,345.1 320.4,351.3 320.6,350.3 320.9,346.7 321.1,350.4 321.4,347.8 321.6,346.7 321.9,339.1 322.1,345.2 322.4,350.1 322.6,353.9 322.9,340.9 323.1,339.2 323.4,345.3 323.6,344.9 323.9,343.8 324.1,349.8 324.4,341.3 324.6,348.5 324.9,341.5 325.1,355.8 325.4,347.1 325.6,349.3 325.9,348.0 326.1,350.0 326.4,350.3 326.6,348.6 326.9,340.4 327.1,337.9 327.4,345.9 327.6,345.7 327.9,347.6 328.1,347.2 328.4,348.6 328.6,342.9 328.9,347.0 329.1,346.9 329.4,349.5 329.6,347.4 329.9,347.6 330.1,346.2 330.4,349.5 330.6,345.4 330.9,343.9 331.1,348.1 331.4,347.1"/>
<polyline stroke="#9467bd" points="239.4,339.1 239.7,351.0 240.0,367.1 240.3,351.8 240.6,366.2 240.9,325.7 241.2,345.0 241.5,356.8 241.8,353.0 242.1,353.3 242.4,363.0 242.7,325.5 243.0,362.0 243.3,330.1 243.6,343.1 243.9,346.0 244.2,344.9 244.5,335.6 244.8,342.7 245.1,349.1 245.4,350.2 245.7,349.6 246.0,340.9 246.3,360.4 246.6,344.5 246.9,350.2 247.2,344.4 247.5,354.0 247.8,340.0 248.1,353.5 248.4,327.0 248.7,359.9 249.0,337.1 249.3,360.9 249.6,339.4 249.9,356.8 250.2,331.5 250.5,324.6 250.8,346.3 251.1,344.0 251.4,353.8 251.7,340.1 252.0,336.5 252.3,324.5 252.6,328.0 252.9,330.6 253.2,349.3 253.5,345.4 253.8,349.7 254.1,336.1 254.4,332.7 254.7,333.8 255.0,357.2 255.3,359.9 255.6,336.5 255.9,355.9 256.2,327.0 256.5,343.8 256.8,349.8 257.1,351.7 257.4,359.0 257.7,345.9 258.0,328.4 258.3,351.5 258.6,342.5 258.9,345.7 259.2,347.6 259.5,341.8 259.8,356.3 260.1,351.6 260.4,365.2 260.7,353.0 261.0,341.5 261.3,325.2 261.6,352.1 261.9,349.4 262.2,340.9 262.5,345.7 262.8,360.6 263.1,341.9 263.4,370.7 263.7,365.5 264.0,369.9 264.3,353.5 264.6,349.2 264.9,332.4 265.2,335.4 265.5,332.5 265.8,362.0 266.1,336.4 266.4,336.2 266.7,337.6 267.0,343.3 267.3,345.0 267.6,352.0 267.9,356.0 268.2,346.1 268.5,355.3 268.8,361.5 269.1,344.2 269.4,346.7 269.7,330.8 270.0,350.6 270.3,356.0 270.6,345.2 270.9,343.3 271.2,342.3 271.5,350.8 271.8,337.7 272.1,362.4 272.4,341.6 272.7,353.1 273.0,337.1 273.3,351.0 273.6,348.8 273.9,331.2 274.2,352.1 274.5,356.1 274.8,353.3 275.1,346.8 275.4,344.0 275.7,352.4 276.0,344.6 276.3,344.5 276.6,331.3 276.9,330.8 277.2,342.3 277.5,335.7 277.8,331.0 278.1,339.9 278.4,345.7 278.7,342.5 279.0,347.3 279.3,329.8 279.6,344.7 279.9,345.4 280.2,342.1 280.5,345.7 280.8,354.0 281.1,344.0 281.4,344.1 281.7,349.2 282.0,342.0 282.3,351.0 282.6,346.4 282.9,363.0 283.2,345.4 283.5,345.2 283.8,350.2 284.1,354.4 284.4,347.0 284.7,363.7 285.0,333.1 285.3,318.0 285.6,360.9 285.9,365.5 286.2,356.6 286.5,354.9 286.8,342.8 287.1,350.8 287.4,333.2 287.7,355.8 288.0,347.9 288.3,348.4 288.6,355.2 288.9,344.9 289.2,335.6 289.5,320.7 289.8,336.2 290.1,352.9 290.4,322.1 290.7,329.8 291.0,334.4 291.3,335.4 291.6,361.0 291.9,351.0 292.2,350.8 292.5,354.3 292.8,362.6 293.1,345.9 293.4,340.2 293.7,352.1 294.0,337.7 294.3,363.6 294.6,348.5 294.9,344.1 295.2,365.0 295.5,333.7 295.8,339.9 296.1,304.5 296.4,342.3 296.7,337.8 297.0,334.4 297.3,328.1 297.6,334.8 297.9,338.5 298.2,340.4 298.5,357.8 298.8,343.3 299.1,345.1 299.4,340.8 299.7,352.7 300.0,334.4 300.3,339.0 300.6,343.1 300.9,352.0 301.4,325.4 303.1,307.7 304.6,295.0 305.4,264.0 307.2,225.0 308.4,194.0 309.2,159.6 309.8,133.0 310.5,115.4 311.8,85.0 312.9,72.0 313.8,36.5 315.5,18.5 316.4,57.8 317.3,61.0 318.2,36.5 319.0,60.0 320.0,80.0 320.6,110.0 321.7,97.7 321.4,118.0 322.3,125.0 323.3,140.0 324.4,159.6 325.3,185.4 326.2,214.0 327.0,232.0 327.9,255.4 328.5,287.3 329.7,262.5 330.9,268.0 331.8,285.0 332.9,266.9 333.8,299.6 334.5,311.0 336.8,325.4 338.0,338.0 339.4,302.4 340.3,342.0 341.0,360.4 341.4,344.5 341.7,357.8 342.1,338.3 342.4,335.4 342.8,333.5 343.1,348.8 343.5,343.7 343.8,350.1 344.2,338.7 344.5,339.6 344.9,344.0 345.2,342.8 345.6,345.0 345.9,342.6 346.3,340.4 346.6,346.9 347.0,331.4 347.3,358.6 347.7,336.3 348.0,329.9 348.4,355.9 348.7,333.3 349.1,348.5 349.4,353.9 349.8,361.9 350.1,349.8 350.5,346.3 350.8,356.5 351.2,346.5 351.5,343.4 351.9,341.7 352.2,339.9 352.6,333.1 352.9,340.8 353.3,357.2 353.6,347.6 354.0,345.1 354.3,334.2 354.7,345.8 355.0,354.8 355.4,347.8 355.7,344.3 356.1,342.6 356.4,344.5 356.8,342.4 357.1,352.2 357.5,350.7 357.8,355.1 358.2,349.5 358.5,360.8 358.9,350.8 359.2,345.0 359.6,351.4 359.9,327.1 360.3,350.6 360.6,340.9 361.0,355.5 361.3,327.9 361.7,350.6 362.0,344.1 362.4,330.5 362.7,335.8 363.1,357.2 363.4,336.1 363.8,350.9 364.1,346.3 364.5,347.5 364.8,346.9 365.2,348.2 365.5,347.2 365.9,358.7 366.2,346.6 366.6,343.3 366.9,338.0 367.3,343.1 367.6,339.7 368.0,337.2 368.3,350.7 368.7,349.9 369.0,347.1 369.4,348.7 369.7,347.5 370.1,345.1 370.4,357.8 370.8,349.7 371.1,339.4 371.5,336.2 371.8,339.0 372.2,346.5 372.5,344.6 372.9,340.0 373.2,344.6 373.6,349.5 373.9,345.3 374.3,353.0 374.6,345.6 375.0,364.1 375.3,343.0 375.7,350.6 376.0,352.8 376.4,348.0 376.7,341.2 377.1,350.3 377.4,341.8 377.8,338.8 378.1,340.9 378.5,342.6 378.8,347.2 379.2,351.5 379.5,338.0 379.9,328.9 380.2,345.9 380.6,330.6 380.9,349.0 381.3,354.6 381.6,351.5 382.0,354.2 382.3,336.8 382.7,356.9 383.0,346.2 383.4,330.1 383.7,366.1 384.1,345.8 384.4,336.3 384.8,337.2 385.1,341.2 385.5,346.0 385.8,348.4 386.2,367.0 386.5,348.2 386.9,347.8 387.2,344.6 387.6,353.1 387.9,362.5 388.3,347.9 388.6,348.5 389.0,340.6 389.3,340.9 389.7,341.6 390.0,337.3 390.4,339.8 390.7,345.1 391.1,348.1 391.4,357.6 391.8,348.1 392.1,345.2 392.5,351.1 392.8,355.8 393.2,347.8 393.5,360.3 393.9,349.1 394.2,330.4 394.6,355.9 394.9,344.3 395.3,344.1"/>
<polyline stroke="#8c564b" points="174.2,346.1 174.4,338.0 174.6,346.3 174.8,351.1 175.0,348.0 175.2,337.6 175.4,345.4 175.6,339.3 175.8,354.0 176.0,355.0 176.2,347.2 176.4,353.2 176.6,347.4 176.8,336.1 177.0,335.5 177.2,333.4 177.4,344.9 177.6,337.1 177.8,336.3 178.0,344.0 178.2,333.0 178.4,344.6 178.6,342.5 178.8,353.3 179.0,338.5 179.2,333.4 179.4,343.8 179.6,336.5 179.8,341.9 180.0,341.9 180.2,344.3 180.4,342.8 180.6,353.0 180.8,335.6 181.0,337.2 181.2,343.9 181.4,339.5 181.6,340.4 181.8,340.0 182.0,342.4 182.2,350.1 182.4,349.9 182.6,337.3 182.8,342.8 183.0,349.6 183.2,341.4 183.4,340.2 183.6,339.7 183.8,336.7 184.0,338.6 184.2,349.7 184.4,351.8 184.6,358.1 184.8,335.4 185.0,347.6 185.2,341.2 185.4,355.0 185.6,333.7 185.8,338.1 186.0,334.6 186.2,331.8 186.4,349.8 186.6,352.1 186.8,342.8 187.0,336.7 187.2,352.6 187.4,342.9 187.6,348.6 187.8,353.5 188.0,351.6 188.2,343.9 188.4,339.4 188.6,339.3 188.8,351.6 189.0,350.7 189.2,339.9 189.4,344.2 189.6,339.0 189.8,338.8 190.0,339.9 190.2,335.9 190.4,333.5 190.6,336.1 190.8,345.8 191.0,337.2 191.2,339.6 191.4,340.7 191.6,339.4 191.8,339.4 192.0,339.3 192.2,340.0 192.4,341.7 192.6,342.9 192.8,338.3 193.0,338.0 193.2,345.9 193.4,342.0 193.6,350.3 193.8,345.0 194.0,343.7 194.2,341.2 194.4,342.6 194.6,347.4 194.8,343.8 195.0,340.7 195.2,344.7 195.4,339.0 195.6,338.5 195.8,344.7 196.0,344.5 196.2,346.5 196.4,338.9 196.6,339.5 196.8,351.9 197.0,338.9 197.2,348.6 197.4,337.7 197.6,346.2 197.8,344.5 198.0,340.5 198.2,339.4 198.4,351.9 198.6,357.2 198.8,356.1 199.0,347.9 199.2,348.4 199.4,349.4 199.6,358.9 199.8,337.0 200.0,329.2 200.2,347.3 200.4,342.6 200.6,356.7 200.8,345.1 201.0,350.0 201.2,344.2 201.4,344.1 201.6,347.7 201.8,347.7 202.0,350.3 202.2,350.7 202.4,349.8 202.6,345.4 202.8,340.1 203.0,341.4 203.2,351.0 203.4,346.3 203.6,336.1 203.8,344.1 204.0,347.1 204.2,347.8 204.4,343.4 204.6,344.1 204.8,346.1 205.0,340.4 205.2,350.9 205.4,351.6 205.6,344.9 205.8,345.3 206.0,337.6 206.2,341.3 206.4,339.0 206.6,350.8 206.8,348.7 207.0,347.7 207.2,336.0 207.4,341.4 207.6,354.5 207.8,336.0 208.0,343.4 208.2,337.6 208.4,332.5 208.6,349.9 208.8,347.1 209.0,349.9 209.2,348.8 209.4,339.0 209.6,327.6 209.8,341.3 210.0,342.5 210.2,344.3 210.4,339.1 210.6,350.5 210.8,335.5 211.0,358.9 211.2,330.1 211.4,351.6 211.6,326.8 211.8,333.5 212.0,344.3 212.2,342.1 212.4,346.0 212.6,335.8 212.8,346.5 213.0,352.0 213.2,329.4 213.4,345.9 213.6,341.7 213.8,331.3 214.0,341.5 214.2,339.6 214.4,335.2 214.6,333.7 214.8,337.8 215.0,338.1 215.2,344.9 215.4,340.4 215.6,355.6 215.8,343.3 216.0,337.9 216.2,331.9 216.4,344.2 216.6,350.0 216.8,346.6 217.0,335.0 217.2,343.0 217.4,338.4 217.6,346.2 217.8,344.0 218.0,341.9 218.2,348.9 218.4,349.6 218.6,351.5 218.8,349.4 219.0,343.8 219.2,344.2 219.4,341.1 219.6,341.9 219.8,340.9 220.0,343.2 220.2,341.9 220.4,335.4 220.6,347.8 220.8,344.9 221.0,347.4 221.2,344.4 221.4,341.9 221.6,344.5 221.8,343.7 222.0,336.6 222.2,337.3 222.4,349.6 222.6,338.6 222.8,337.6 223.0,345.0 223.2,358.6 223.4,347.1 223.6,347.6 223.8,339.1 224.0,352.7 224.2,340.4 224.4,346.5 224.6,339.8 224.8,350.0 225.0,342.7 225.2,338.7 225.4,332.4 225.6,335.6 225.8,337.9 226.0,336.5 226.2,343.4 226.4,338.7 226.6,350.4 226.8,334.0 227.0,337.9 227.2,340.9 227.4,346.4 227.6,337.5 227.8,351.4 228.0,351.2 228.2,350.5 228.4,351.5 228.6,335.8 228.8,350.1 229.0,341.4 229.2,343.1 229.4,347.0 229.6,344.0 229.8,347.9 230.0,338.2 230.2,352.9 230.4,345.4 230.6,343.0 230.8,347.6 231.0,349.6 231.2,346.6 231.4,352.9 231.6,340.3 231.8,346.0 232.0,353.7 232.2,345.9 232.4,342.0 232.6,348.5 232.8,346.7 233.0,345.3 233.2,341.0 233.4,337.1 233.6,340.6 233.8,334.2 234.0,346.9 234.2,344.8 234.4,326.5 234.6,340.5 234.8,333.3 235.0,326.5 235.2,335.9 235.4,331.6 235.6,352.8 235.8,351.1 236.0,338.6 236.2,362.8 236.4,344.3 236.6,349.9 236.8,347.6 237.0,337.8 237.2,349.1 237.4,346.9 237.6,361.8 237.8,344.0 238.0,348.2 238.2,341.2 238.4,351.4 238.6,337.7 238.8,344.4 239.0,342.8 239.2,341.3 239.4,337.4 239.6,344.2 239.8,336.9 240.0,343.4 240.2,340.1 240.4,344.9 240.6,331.0 240.8,352.0 241.0,342.8 241.2,340.3 241.4,342.3 241.6,341.8 241.8,340.0 242.0,343.6 242.2,341.9 242.4,348.8 242.6,349.6 242.8,339.7 243.0,337.7 243.2,336.7 243.4,343.5 243.6,337.1 243.8,342.6 244.0,339.3 244.2,340.1 244.4,338.9 244.6,345.6 244.8,342.3 245.0,340.8 245.2,347.8 245.4,345.1 245.6,346.7 246.2,334.0 247.5,322.0 249.7,313.0 251.2,296.0 252.6,264.0 254.6,225.0 255.3,198.0 256.5,160.0 257.7,133.0 258.9,113.0 259.5,97.0 259.8,90.3 260.1,89.0 260.4,62.9 260.7,80.8 261.0,63.8 261.3,50.4 261.6,45.0 261.9,57.1 262.2,47.1 262.5,47.6 262.8,20.6 263.1,41.1 263.4,62.8 263.7,44.5 264.0,26.6 264.3,32.2 264.6,18.5 264.9,66.4 265.2,32.0 265.5,54.6 265.8,24.5 266.1,45.4 266.4,66.9 266.7,34.9 267.0,66.7 267.3,61.5 267.6,84.8 267.9,92.1 268.2,91.9 268.5,92.5 268.8,116.7 269.1,120.8 269.4,120.6 269.7,97.8 270.0,115.5 270.3,111.7 270.6,119.4 270.9,131.6 271.2,154.5 271.5,141.8 271.8,161.3 272.1,152.6 272.6,165.0 272.2,182.0 273.4,190.0 274.3,205.0 274.6,222.0 276.0,236.0 277.5,256.0 279.2,295.0 280.7,316.5 282.8,329.0 283.5,338.0 284.2,341.7 284.4,337.5 284.7,339.1 284.9,344.6 285.2,344.8 285.4,342.6 285.7,333.2 285.9,345.6 286.2,341.6 286.4,340.7 286.7,348.2 286.9,341.9 287.2,342.2 287.4,347.4 287.7,345.5 287.9,344.7 288.2,342.6 288.4,341.0 288.7,349.9 288.9,345.2 289.2,353.0 289.4,352.2 289.7,345.1 289.9,338.3 290.2,356.2 290.4,340.1 290.7,345.1 290.9,338.9 291.2,351.5 291.4,339.6 291.7,344.3 291.9,340.2 292.2,344.6 292.4,351.0 292.7,344.7 292.9,344.4 293.2,344.0 293.4,341.7 293.7,351.6 293.9,336.1 294.2,334.9 294.4,345.2 294.7,348.9 294.9,340.3 295.2,341.5 295.4,347.6 295.7,351.1 295.9,340.9 296.2,348.3 296.4,341.1 296.7,351.2 296.9,339.1 297.2,348.0 297.4,346.2 297.7,339.2 297.9,345.5 298.2,340.9 298.4,341.5 298.7,345.5 298.9,340.5 299.2,351.1 299.4,340.5 299.7,343.4 299.9,343.1 300.2,349.7 300.4,351.0 300.7,335.2 300.9,348.5 301.2,335.3 301.4,350.2 301.7,340.9 301.9,350.3 302.2,344.8 302.4,352.5 302.7,336.6 302.9,343.0 303.2,344.4 303.4,349.8 303.7,350.5 303.9,345.4 304.2,348.6 304.4,350.6 304.7,347.4 304.9,349.0 305.2,353.9 305.4,343.9 305.7,350.0 305.9,347.8 306.2,342.7 306.4,347.0 306.7,345.6 306.9,346.8 307.2,350.2 307.4,349.7 307.7,343.0 307.9,347.0 308.2,348.9 308.4,352.0 308.7,345.7 308.9,346.5 309.2,345.2 309.4,349.1 309.7,348.6 309.9,342.4 310.2,350.5 310.4,345.8 310.7,345.7 310.9,343.8 311.2,350.2 311.4,352.1 311.7,351.6 311.9,348.8 312.2,352.5 312.4,348.1 312.7,344.2 312.9,348.6 313.2,349.2 313.4,350.1 313.7,346.0 313.9,345.6 314.2,350.6 314.4,348.2 314.7,352.7 314.9,357.0 315.2,352.5 315.4,346.4 315.7,353.7 315.9,351.1 316.2,355.5 316.4,353.7 316.7,345.9 316.9,354.5 317.2,351.7 317.4,354.3 317.7,349.7 317.9,354.3 318.2,351.6 318.4,353.9 318.7,348.3 318.9,349.2 319.2,351.3 319.4,351.9 319.7,349.2 319.9,346.0 320.2,348.4 320.4,345.5 320.7,352.0 320.9,344.2 321.2,352.3 321.4,343.4 321.7,351.7 321.9,345.0 322.2,347.1 322.4,346.7 322.7,353.1 322.9,344.4 323.2,350.2 323.4,353.3 323.7,346.1 323.9,346.4 324.2,348.9 324.4,347.4 324.7,350.2 324.9,353.2 325.2,341.9 325.4,348.8 325.7,340.8 325.9,346.4 326.2,356.7 326.4,350.8 326.7,350.1 326.9,344.9 327.2,349.6 327.4,351.1 327.7,351.2 327.9,347.0 328.2,350.8 328.4,345.3 328.7,355.1 328.9,348.7 329.2,348.6 329.4,346.5 329.7,348.8 329.9,348.5 330.2,349.9 330.4,346.6 330.7,346.2 330.9,347.1 331.2,345.1 331.4,346.6"/>
<polyline stroke="#e377c2" points="304.9,328.6 305.7,339.7 306.5,333.1 307.3,338.2 308.1,337.1 308.9,335.2 309.7,337.2 310.5,336.1 311.3,340.8 312.1,345.3 312.9,333.3 313.7,349.7 314.5,341.3 315.3,335.7 316.1,340.1 316.9,337.9 317.7,342.1 318.5,343.2 319.3,329.7 320.1,325.9 320.9,356.5 321.7,331.5 322.5,327.6 323.3,339.6 324.1,338.2 324.9,334.8 325.7,337.9 326.5,330.0 327.3,342.2 328.1,338.5 328.9,333.6 329.7,337.9 330.5,340.4 331.8,348.4 333.0,340.0 334.1,350.0 335.5,336.0 337.0,340.0 338.4,326.0 339.8,334.0 341.2,322.0 342.4,326.0 343.8,308.0 345.2,316.0 346.6,300.0 347.6,306.0 348.6,298.0 350.4,273.0 351.6,241.0 352.6,245.0 353.2,290.8 353.9,220.0 354.8,185.4 356.3,173.0 357.4,232.4 358.3,150.0 359.2,102.0 360.3,128.0 361.0,124.0 361.9,80.0 363.1,29.5 364.5,121.6 365.4,18.5 366.6,68.0 367.7,107.4 368.7,60.0 369.8,33.9 371.6,125.0 373.0,84.0 374.6,77.3 375.1,85.0 376.0,124.0 376.7,155.0 377.8,176.5 379.2,215.0 380.4,271.3 382.2,191.6 383.1,255.4 384.0,278.4 384.9,302.4 386.3,274.9 387.3,338.5 388.4,337.8 389.8,325.0 391.3,310.6 393.3,339.8 395.9,330.5 398.5,338.0 401.2,354.4 402.6,328.6 404.6,340.0 405.9,328.6 408.5,343.8 410.2,336.0 412.0,342.0 413.8,334.0 415.6,323.9 417.2,349.0 419.8,333.0 422.2,312.6 423.2,354.4 425.8,340.0 427.1,346.5 429.4,336.0 431.1,345.0 433.1,326.6 435.8,340.0 438.4,342.5 439.8,328.6 441.8,340.0 443.7,332.0 445.7,343.8 447.3,318.6 450.1,353.8 451.7,325.2 454.1,318.6 456.4,343.8 458.4,331.9 459.7,331.9 461.7,343.2"/>
<polyline stroke="#7f7f7f" points="370.4,342.7 371.0,345.2 371.6,343.9 372.2,345.0 372.8,345.4 373.4,342.9 374.0,339.8 374.6,343.5 375.2,338.6 375.8,338.8 376.4,341.4 377.0,344.5 377.6,343.1 378.2,344.6 378.8,344.5 379.4,342.3 380.0,339.2 380.6,342.1 381.2,343.5 381.8,337.2 382.4,338.6 383.0,336.1 383.6,336.0 384.2,343.7 384.8,342.8 385.4,347.6 386.0,345.3 386.6,348.8 387.2,341.5 387.8,343.5 388.4,344.2 389.0,340.2 389.6,343.2 390.2,346.0 390.8,346.5 391.4,343.0 392.0,344.2 392.6,342.8 393.2,344.9 393.8,343.0 394.4,341.4 395.0,343.3 395.6,343.5 396.2,337.4 396.8,341.6 397.4,342.3 398.0,342.5 398.6,343.8 399.2,342.9 399.8,341.9 400.4,344.1 401.0,343.3 401.6,341.9 402.2,342.3 402.8,343.3 403.4,340.7 404.0,342.8 404.6,345.7 405.2,343.7 405.8,343.6 406.4,343.9 407.0,346.4 407.6,340.1 408.2,340.0 408.8,342.5 409.4,334.7 410.0,334.2 410.6,335.3 411.2,340.9 411.8,341.1 412.4,343.0 413.0,336.8 413.6,336.8 414.2,333.2 414.8,331.8 415.4,335.0 416.0,334.4 416.6,332.9 417.2,333.5 417.8,333.8 418.4,334.7 419.0,326.6 419.6,329.5 420.2,333.9 420.8,329.5 421.4,326.1 422.0,327.1 422.6,331.7 423.2,327.5 423.8,330.8 424.4,337.2 425.0,333.7 425.6,334.4 426.2,334.0 426.8,335.5 427.4,332.2 428.0,328.7 428.6,324.8 429.2,323.6 429.8,321.0 430.4,323.4 431.0,326.8 431.6,325.4 432.2,326.9 432.8,329.1 433.4,326.6 434.0,324.0 434.6,328.6 435.2,326.3 435.3,325.4 435.6,297.5 437.0,299.0 438.2,284.2 439.5,301.0 440.5,294.0 442.1,291.0 443.5,265.0 444.7,223.0 446.0,284.2 447.2,250.0 448.5,229.3 450.0,262.0 451.3,281.0 452.2,250.0 453.0,214.0 454.5,185.0 455.7,138.0 457.8,192.0 459.7,143.4 461.3,180.0 462.7,115.0 463.6,229.3 465.2,73.0 467.9,126.5 469.9,84.6 471.2,211.6 472.5,61.1 474.2,132.0 475.5,100.0 477.3,47.6 478.7,171.7 480.5,51.8 483.1,156.6 485.2,18.5 486.6,144.0 488.5,63.0 491.4,176.0 493.1,62.5 494.6,144.0 496.4,108.5 499.9,171.8 501.6,119.3 502.9,167.0 505.2,150.4 507.9,204.5 510.2,170.0 512.3,209.8 515.5,200.0 516.7,238.0 519.0,232.0 520.5,244.0 522.3,267.4 524.4,257.7 526.7,279.8 528.3,271.9 531.9,302.0 533.8,283.4 537.7,310.0 539.7,294.2 543.6,304.8 545.9,317.5 548.0,318.6 549.4,313.6 551.5,329.6 553.7,322.5 556.0,333.1 560.0,318.0 562.5,333.1 566.0,333.1 570.1,342.0 572.8,340.2 574.9,346.4 577.2,347.8 580.8,340.2 584.3,336.6 586.4,346.9 588.7,338.0 590.8,342.3 593.1,340.2 596.7,345.1 601.1,341.0 603.4,343.7 605.5,342.0 608.2,347.6 613.0,341.0 615.6,342.8 618.3,340.2 621.5,345.1 623.8,344.6 626.8,347.3 631.2,346.0 633.8,346.0 636.9,342.0 640.8,347.8 642.8,348.5 645.5,345.9 651.4,345.6 654.8,341.9"/>
</g>
<rect x="83.2" y="1.5" width="598.5" height="384.4" fill="none" stroke="#1a1a1a" stroke-width="1.4"/>
<g class="t">
<line x1="136.2" y1="385.9" x2="136.2" y2="392.2"/>
<line x1="266.1" y1="385.9" x2="266.1" y2="392.2"/>
<line x1="396.0" y1="385.9" x2="396.0" y2="392.2"/>
<line x1="526.0" y1="385.9" x2="526.0" y2="392.2"/>
<line x1="655.9" y1="385.9" x2="655.9" y2="392.2"/>
<line x1="76.9" y1="346.1" x2="83.2" y2="346.1"/>
<line x1="76.9" y1="280.7" x2="83.2" y2="280.7"/>
<line x1="76.9" y1="215.4" x2="83.2" y2="215.4"/>
<line x1="76.9" y1="150.0" x2="83.2" y2="150.0"/>
<line x1="76.9" y1="84.6" x2="83.2" y2="84.6"/>
<line x1="76.9" y1="19.2" x2="83.2" y2="19.2"/>
</g>
<text x="136.2" y="415.2" text-anchor="middle">2</text>
<text x="266.1" y="415.2" text-anchor="middle">4</text>
<text x="396.0" y="415.2" text-anchor="middle">6</text>
<text x="526.0" y="415.2" text-anchor="middle">8</text>
<text x="655.9" y="415.2" text-anchor="middle">10</text>
<text x="69.3" y="354.3" text-anchor="end">0.0</text>
<text x="69.3" y="288.9" text-anchor="end">0.2</text>
<text x="69.3" y="223.6" text-anchor="end">0.4</text>
<text x="69.3" y="158.2" text-anchor="end">0.6</text>
<text x="69.3" y="92.8" text-anchor="end">0.8</text>
<text x="69.3" y="27.4" text-anchor="end">1.0</text>
<text x="382.5" y="444.6" text-anchor="middle" textLength="208.5" lengthAdjust="spacing">Wavelength [µm]</text>
<text transform="translate(19.6,194.2) rotate(-90)" text-anchor="middle" textLength="241.5" lengthAdjust="spacing">Normalized intensity</text>
</svg></body></html>
